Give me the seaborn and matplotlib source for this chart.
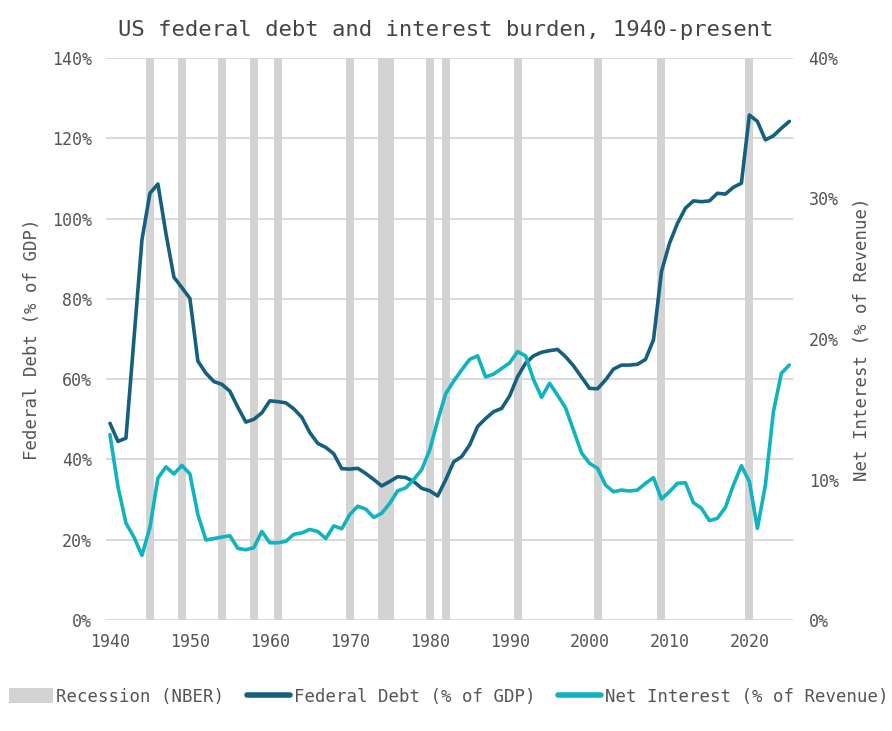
import matplotlib
matplotlib.use('Agg')
import matplotlib.pyplot as plt
from matplotlib.patches import Patch
from matplotlib.lines import Line2D
from matplotlib.ticker import FuncFormatter
import seaborn as sns
import pandas as pd

years = list(range(1940, 2026))

debt_pct_gdp = [
    49.0, 44.5, 45.3, 70.0, 94.7, 106.3, 108.6, 96.3, 85.4, 82.8,
    80.1, 64.5, 61.5, 59.4, 58.7, 57.0, 53.0, 49.3, 50.0, 51.6,
    54.6, 54.4, 54.1, 52.6, 50.5, 46.7, 44.0, 43.0, 41.4, 37.7,
    37.6, 37.8, 36.5, 35.0, 33.4, 34.5, 35.7, 35.5, 34.5, 32.8,
    32.2, 30.9, 34.9, 39.4, 40.7, 43.6, 48.2, 50.2, 51.9, 52.7,
    55.8, 60.6, 64.0, 65.8, 66.7, 67.1, 67.4, 65.6, 63.3, 60.5,
    57.7, 57.6, 59.8, 62.5, 63.5, 63.5, 63.7, 64.9, 69.8, 86.8,
    93.8, 98.8, 102.6, 104.4, 104.2, 104.4, 106.3, 106.1, 107.8, 108.8,
    125.8, 124.2, 119.6, 120.6, 122.5, 124.2,
]

interest_pct_rev = [
    13.2, 9.5, 6.9, 5.9, 4.6, 6.6, 10.1, 10.9, 10.4, 11.0,
    10.4, 7.5, 5.7, 5.8, 5.9, 6.0, 5.1, 5.0, 5.15, 6.3,
    5.5, 5.5, 5.6, 6.1, 6.2, 6.45, 6.3, 5.8, 6.7, 6.5,
    7.5, 8.1, 7.9, 7.3, 7.6, 8.3, 9.2, 9.4, 10.0, 10.7,
    12.1, 14.2, 16.1, 17.0, 17.8, 18.55, 18.8, 17.3, 17.5, 17.9,
    18.3, 19.1, 18.8, 17.1, 15.85, 16.85, 16.0, 15.1, 13.5, 11.9,
    11.15, 10.8, 9.6, 9.13, 9.25, 9.18, 9.25, 9.73, 10.13, 8.61,
    9.13, 9.73, 9.77, 8.35, 7.95, 7.07, 7.24, 8.02, 9.6, 10.98,
    9.85, 6.52, 9.6, 14.8, 17.56, 18.15,
]

recession_years = [1945, 1949, 1954, 1958, 1961, 1970, 1974, 1975,
                   1980, 1982, 1991, 2001, 2009, 2020]

debt_ticks = [0, 20, 40, 60, 80, 100, 120, 140]
interest_ticks = [0, 10, 20, 30, 40]
year_ticks = [1940, 1950, 1960, 1970, 1980, 1990, 2000, 2010, 2020]

DEBT_COLOR = '#16607f'
INT_COLOR = '#10b3c0'
REC_COLOR = '#d3d3d3'
GRID_COLOR = '#dadada'
TEXT_COLOR = '#555555'

df = pd.DataFrame({'year': years, 'debt': debt_pct_gdp, 'interest': interest_pct_rev})

sns.set_theme(style='white')
plt.rcParams['font.family'] = ['DejaVu Sans Mono', 'DejaVu Sans']

fig = plt.figure(figsize=(8.92, 7.31), dpi=100)
ax = fig.add_axes([0.1188, 0.1518, 0.8894 - 0.1188, 0.9207 - 0.1518])
ax2 = ax.twinx()

for yr in recession_years:
    ax.axvspan(yr - 0.5, yr + 0.5, color=REC_COLOR, lw=0, zorder=1)

sns.lineplot(data=df, x='year', y='debt', ax=ax, color=DEBT_COLOR, lw=2.6, zorder=3)
sns.lineplot(data=df, x='year', y='interest', ax=ax2, color=INT_COLOR, lw=2.6, zorder=3)

ax.set_xlim(1939.5, 2025.5)
ax.set_ylim(0, 140)
ax2.set_ylim(0, 40)
ax.set_xticks(year_ticks)
ax.set_yticks(debt_ticks)
ax2.set_yticks(interest_ticks)
pct = FuncFormatter(lambda v, _: f'{v:.0f}%')
ax.yaxis.set_major_formatter(pct)
ax2.yaxis.set_major_formatter(pct)

ax.grid(axis='y', color=GRID_COLOR, lw=1.5, zorder=0)
ax.grid(axis='x', visible=False)
ax2.grid(False)
ax.set_axisbelow(True)

for a in (ax, ax2):
    for s in a.spines.values():
        s.set_visible(False)
    a.tick_params(length=0, labelsize=12, labelcolor=TEXT_COLOR)
ax.tick_params(axis='y', pad=10)
ax.tick_params(axis='x', pad=9)
ax2.tick_params(axis='y', pad=11)

ax.set_xlabel('')
ax.set_ylabel('Federal Debt (% of GDP)', fontsize=12.5, color=TEXT_COLOR, labelpad=8)
ax2.set_ylabel('Net Interest (% of Revenue)', fontsize=12.5, color=TEXT_COLOR, labelpad=10)

fig.suptitle('US federal debt and interest burden, 1940-present',
             fontsize=16, color='#444444', y=0.973)

handles = [
    Patch(facecolor=REC_COLOR, edgecolor='none', label='Recession (NBER)'),
    Line2D([0], [0], color=DEBT_COLOR, lw=4, solid_capstyle='round', label='Federal Debt (% of GDP)'),
    Line2D([0], [0], color=INT_COLOR, lw=4, solid_capstyle='round', label='Net Interest (% of Revenue)'),
]
leg = fig.legend(handles=handles, loc='center', bbox_to_anchor=(0.503, 0.047), ncol=3,
                 frameon=False, fontsize=12.5, handlelength=2.5, handletextpad=0.2,
                 columnspacing=1.3, handleheight=0.9)
for t in leg.get_texts():
    t.set_color(TEXT_COLOR)

fig.savefig('out.png', dpi=100)
plt.close(fig)
